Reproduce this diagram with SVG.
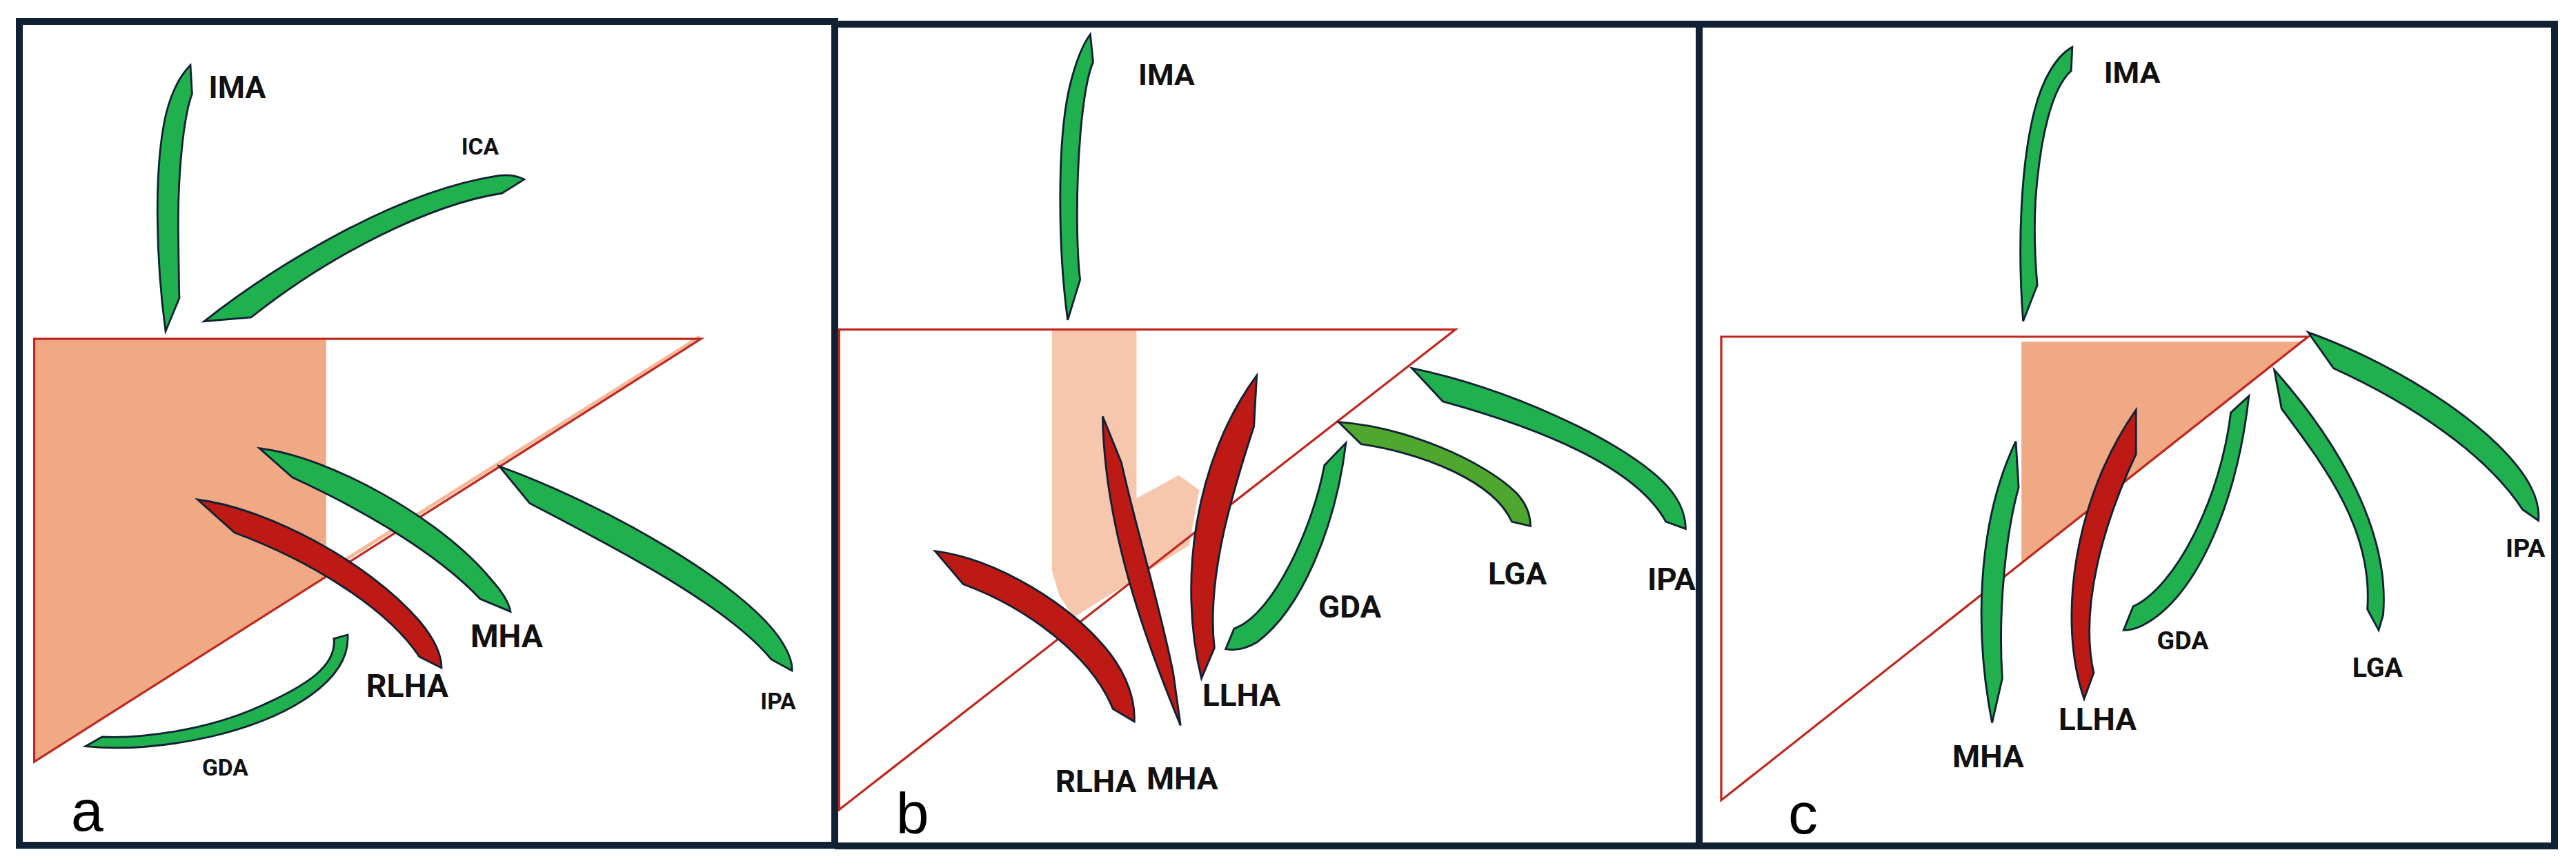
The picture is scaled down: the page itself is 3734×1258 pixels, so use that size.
<svg xmlns="http://www.w3.org/2000/svg" width="3734" height="1258" viewBox="0 0 3734 1258">
<style>
.g{fill:#20b04e;stroke:#0f2133;stroke-width:3.5;stroke-linejoin:miter}
.o{fill:#4fa72f;stroke:#0f2133;stroke-width:3.5}
.r{fill:#bd1915;stroke:#0f2133;stroke-width:3.5}
.tri{fill:none;stroke:#c0281e;stroke-width:4}
.frame{stroke:#0f2133;stroke-width:10;fill:none}
.lb{font-family:Roboto,"Liberation Sans",sans-serif;font-weight:bold;fill:#111;text-anchor:middle}
.pl{font-family:"Liberation Sans",Arial,sans-serif;fill:#000;text-anchor:middle}
</style>
<rect width="3734" height="1258" fill="#fff"/>
<g id="frames">
<path class="frame" d="M28,31 H1210 V1225 H28 Z"/>
<path class="frame" d="M1210,35 H3703 V1226 H1210"/>
<path class="frame" d="M2463,35 V1226"/>
</g>
<g id="panel-a" transform="scale(0.8)">
<polygon points="62,614 591,614 591,1044 62,1380" fill="#f0a984"/>
<line x1="591" y1="1036" x2="1268" y2="610" stroke="#f6b898" stroke-width="6"/>
<polygon class="tri" points="62,614 1270,614 62,1380"/>
<g id="a-IMA"><path class="g" d="M300,600 C283,475 278,310 300,210 C312,160 328,135 345,118 L348,170 C333,210 322,310 323,420 C324,480 324,520 325,540 Z"/><text class="lb" x="430" y="178" font-size="56">IMA</text></g>
<g id="a-ICA"><path class="g" d="M370,582 C500,480 720,345 905,318 C925,316 940,320 950,325 L910,350 C780,370 600,460 455,575 Z"/><text class="lb" x="870" y="280" font-size="42">ICA</text></g>
<g id="a-MHA"><path class="g" d="M470,812 C600,828 800,940 890,1050 C910,1072 922,1092 925,1108 L870,1085 C790,1000 650,920 530,865 Z"/><text class="lb" x="918" y="1172" font-size="58">MHA</text></g>
<g id="a-RLHA"><path class="r" d="M358,905 C480,920 665,1015 760,1125 C785,1155 800,1185 800,1210 L760,1190 C700,1100 560,1015 425,965 Z"/><text class="lb" x="738" y="1262" font-size="58">RLHA</text></g>
<g id="a-IPA"><path class="g" d="M905,845 C1100,915 1350,1060 1415,1160 C1428,1180 1436,1198 1435,1215 L1398,1195 C1320,1100 1130,1000 960,912 Z"/><text class="lb" x="1410" y="1285" font-size="42">IPA</text></g>
<g id="a-GDA"><path class="g" d="M630,1150 C635,1230 530,1300 380,1335 C290,1355 215,1358 155,1352 L185,1335 C250,1338 370,1325 470,1280 C560,1240 610,1205 605,1157 Z"/><text class="lb" x="408" y="1405" font-size="42">GDA</text></g>
<text class="pl" x="158" y="1505" font-size="105">a</text>
</g>
<g id="panel-b" transform="translate(1200,0) scale(0.818,0.8026)">
<polygon points="397,597 547,597 547,900 622,858 658,885 640,985 435,1115 410,1075 397,1030" fill="#f6c6ad"/>
<polygon class="tri" points="20,595 1112,595 20,1462"/>
<g id="b-IMA"><path class="g" d="M425,578 C408,450 405,250 430,150 C440,110 452,80 465,62 L470,112 C450,160 440,300 442,420 C443,460 445,490 447,505 Z"/><text class="lb" x="600" y="153" font-size="54">IMA</text></g>
<g id="b-RLHA"><path class="r" d="M190,995 C300,1010 430,1090 500,1180 C530,1220 545,1265 543,1303 L505,1280 C470,1190 360,1100 240,1055 Z"/><text class="lb" x="475" y="1430" font-size="56">RLHA</text></g>
<g id="b-MHA"><path class="r" d="M487,752 L520,835 C545,950 585,1080 612,1215 L625,1310 C560,1150 490,950 487,752 Z"/><text class="lb" x="628" y="1425" font-size="56">MHA</text></g>
<g id="b-LLHA"><path class="r" d="M760,678 L755,770 C720,880 670,1040 685,1170 L662,1225 C620,1050 650,830 760,678 Z"/><text class="lb" x="733" y="1275" font-size="56">LLHA</text></g>
<g id="b-GDA"><path class="g" d="M918,800 C900,950 840,1100 760,1160 C740,1172 720,1175 705,1172 L720,1135 C790,1110 860,950 880,840 Z"/><text class="lb" x="925" y="1115" font-size="56">GDA</text></g>
<g id="b-LGA"><path class="o" d="M905,762 C1020,770 1160,830 1220,890 C1238,910 1245,930 1245,950 L1212,942 C1180,870 1060,820 945,802 Z"/><text class="lb" x="1222" y="1055" font-size="56">LGA</text></g>
<g id="b-IPA"><path class="g" d="M1035,665 C1200,700 1400,790 1480,870 C1505,895 1520,925 1520,955 L1485,942 C1430,840 1250,770 1090,725 Z"/><text class="lb" x="1495" y="1065" font-size="56">IPA</text></g>
<text class="pl" x="150" y="1505" font-size="105">b</text>
</g>
<g id="panel-c" transform="translate(2450,0) scale(0.818,0.8026)">
<polygon points="587,617 1085,617 587,1017" fill="#f0a984"/>
<polygon class="tri" points="55,608 1095,608 55,1445"/>
<g id="c-IMA"><path class="g" d="M590,580 C580,450 585,300 610,200 C625,140 650,100 677,85 L675,128 C640,160 620,250 612,360 C608,430 612,480 615,515 Z"/><text class="lb" x="783" y="150" font-size="54">IMA</text></g>
<g id="c-MHA"><path class="g" d="M577,797 L582,880 C560,960 545,1100 553,1225 L535,1305 C505,1150 505,950 577,797 Z"/><text class="lb" x="528" y="1385" font-size="56">MHA</text></g>
<g id="c-LLHA"><path class="r" d="M790,740 L790,820 C730,950 690,1100 715,1215 L698,1262 C650,1120 680,900 790,740 Z"/><text class="lb" x="722" y="1318" font-size="56">LLHA</text></g>
<g id="c-GDA"><path class="g" d="M990,715 C970,900 900,1080 800,1130 C790,1135 778,1138 768,1138 L785,1095 C860,1060 940,900 958,745 Z"/><text class="lb" x="873" y="1172" font-size="46">GDA</text></g>
<g id="c-LGA"><path class="g" d="M1035,668 C1150,800 1240,960 1228,1110 L1220,1138 L1200,1100 C1210,960 1130,850 1048,738 Z"/><text class="lb" x="1218" y="1222" font-size="48">LGA</text></g>
<g id="c-IPA"><path class="g" d="M1095,600 C1260,660 1440,780 1490,880 C1500,900 1505,920 1503,940 L1475,920 C1410,820 1280,730 1140,665 Z"/><text class="lb" x="1480" y="1005" font-size="46">IPA</text></g>
<text class="pl" x="200" y="1505" font-size="105">c</text>
</g>
</svg>
